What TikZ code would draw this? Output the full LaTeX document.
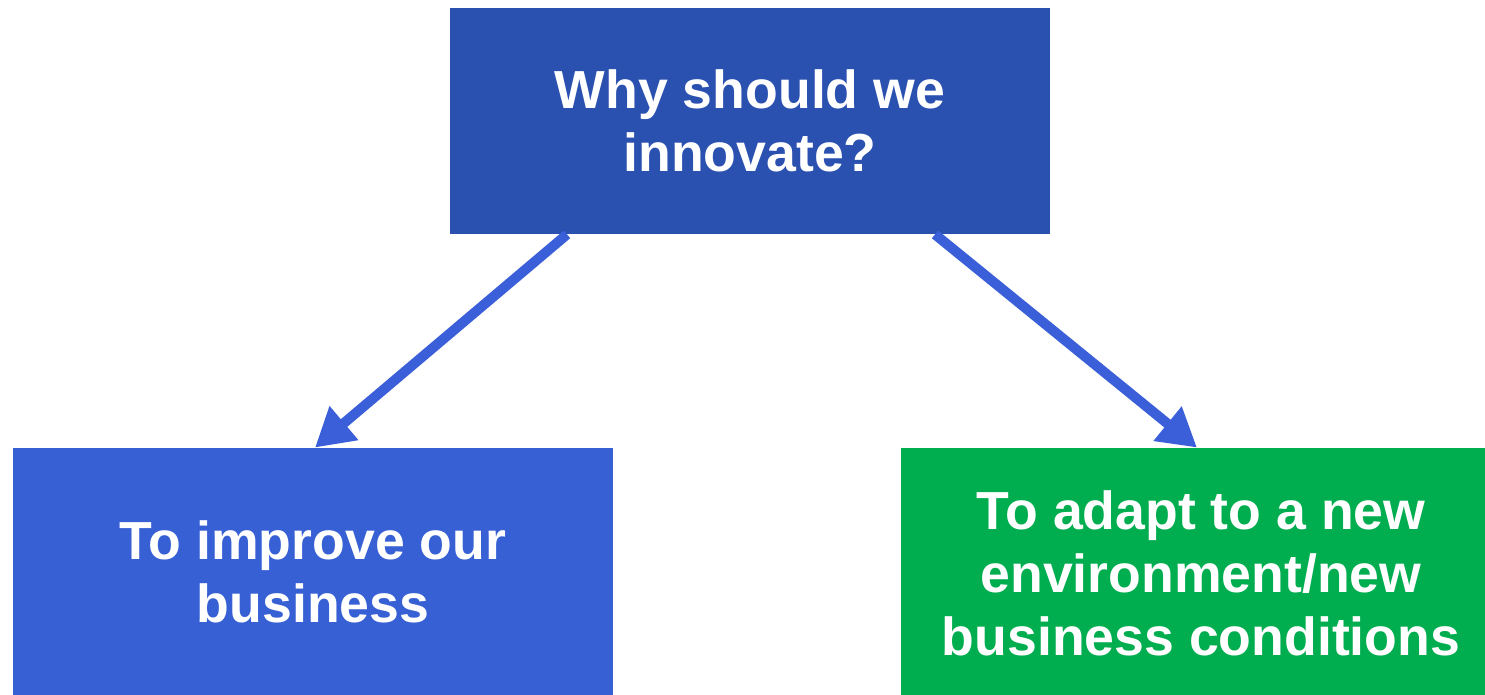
\documentclass[tikz,border=0pt]{standalone}
\usepackage{fontspec}
\setmainfont{Liberation Sans}
\usetikzlibrary{arrows.meta}
\definecolor{whyblue}{HTML}{2A50B0}
\definecolor{boxblue}{HTML}{3760D4}
\definecolor{arrowblue}{HTML}{3A5FD9}
\definecolor{boxgreen}{HTML}{00AD4F}
\tikzset{
  box/.style={rectangle, text=white, align=center, inner sep=0pt,
    font=\fontsize{26.8}{31.5}\selectfont\bfseries},
  link/.style={line width=5pt, draw=arrowblue,
    -{Triangle[length=19pt,width=21pt]}, shorten >=0pt}
}
\begin{document}
\begin{tikzpicture}[x=0.5pt,y=-0.5pt]
        \useasboundingbox (0,0) rectangle (1485,695);

        \node (why)     [box, fill=whyblue, minimum width=300pt, minimum height=113pt] at (750,121) {Why should we\\innovate?};
        \node (improve) [box, fill=boxblue, minimum width=300pt, minimum height=123.5pt] at (313,571.5) {To improve our\\business};
        \node (adapt)   [box, fill=boxgreen, minimum width=292pt, minimum height=123.5pt] at (1193,571.5) {};
        \node (adapttext) [box] at (1201,573) {To adapt to a new\\environment/new\\business conditions};

        \draw [link] ([xshift=-91.5pt]why.south) -- ([xshift=1pt]improve.north);
        \draw [link] ([xshift=92.5pt]why.south) -- ([xshift=2pt]adapt.north);
      \end{tikzpicture}
\end{document}
